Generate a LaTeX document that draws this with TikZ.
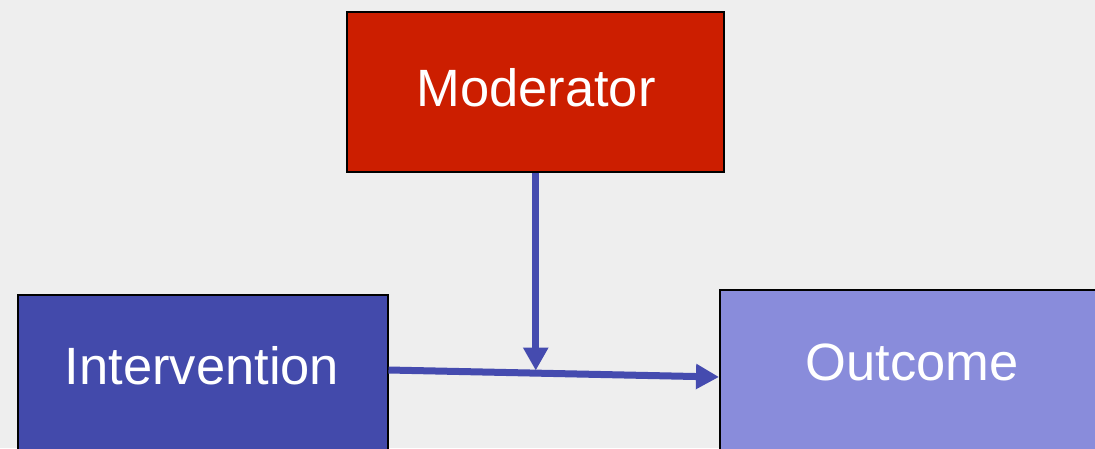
\documentclass[tikz,border=0pt]{standalone}
\usepackage{fontspec}
\setmainfont{Liberation Sans}
\usetikzlibrary{arrows.meta,calc}
\definecolor{bg}{HTML}{EEEEEE}
\definecolor{modred}{HTML}{CC1E00}
\definecolor{intblue}{HTML}{434AAB}
\definecolor{outblue}{HTML}{898CDB}
\definecolor{arrblue}{HTML}{454BAF}
\begin{document}
\begin{tikzpicture}[x=1pt,y=-1pt,
  box/.style={draw=black,line width=1.5pt,inner sep=0pt},
  lbl/.style={text=white,font=\fontsize{52.5}{60}\selectfont},
  arr/.style={draw=arrblue,line width=7pt,-{Triangle[length=23pt,width=24pt]}}]
\useasboundingbox (0,0) rectangle (1095,448);
\clip (0,0) rectangle (1095,448);
\fill[bg] (0,0) rectangle (1095,448);
\node[box,fill=modred,minimum width=377pt,minimum height=160pt,anchor=north west] (mod) at (346,11) {};
\node[lbl] (modt) at (536,88) {Moderator};
\node[box,fill=intblue,minimum width=370pt,minimum height=180pt,anchor=north west] (int) at (17,294) {};
\node[lbl] (intt) at (202,366) {Intervention};
\node[box,fill=outblue,minimum width=400pt,minimum height=180pt,anchor=north west] (out) at (719,289) {};
\node[lbl] (outt) at (912,362) {Outcome};
\coordinate (a) at ($(int.north east)+(0,76)$);
\coordinate (b) at ($(out.north west)+(0,88)$);
\coordinate (m) at ($(mod.south)+(0.5,0)$);
\coordinate (mt) at ($(m)+(0,198)$);
\draw[arr] (a) -- (b);
\draw[arr] (m) -- (mt);
\end{tikzpicture}
\end{document}
